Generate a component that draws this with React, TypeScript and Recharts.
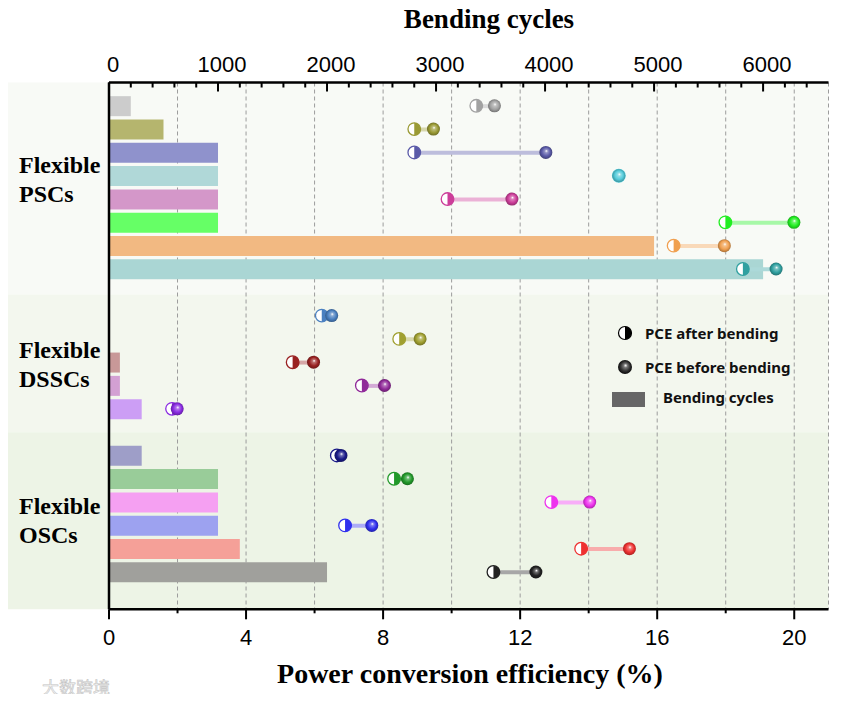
import React from "react";
import {
  ComposedChart,
  Bar,
  Scatter,
  XAxis,
  YAxis,
  CartesianGrid,
  ReferenceArea,
  Cell,
} from "recharts";

// slot of each device on the vertical axis (8 and 14 are gaps between groups)
const ROW_SLOT = [0, 1, 2, 3, 4, 5, 6, 7, 9, 10, 11, 12, 13, 15, 16, 17, 18, 19, 20];
const BENDING_CYCLES = [200, 500, 1000, 1000, 1000, 1000, 5000, 6000, null, null, 100, 100, 300, 300, 1000, 1000, 1000, 1200, 2000];
const PCE_AFTER = [10.72, 8.91, 8.91, 14.88, 9.88, 17.99, 16.48, 18.5, 6.21, 8.47, 5.36, 7.38, 1.84, 6.65, 8.32, 12.91, 6.89, 13.78, 11.22];
const PCE_BEFORE = [11.25, 9.47, 12.75, 14.88, 11.76, 19.99, 17.96, 19.47, 6.5, 9.08, 5.97, 8.04, 1.99, 6.77, 8.71, 14.03, 7.67, 15.19, 12.46];

const GROUP_NAMES = ["PSCs", "DSSCs", "OSCs"];
const GROUP_EDGES = [-1, 8.1, 14, 21.6];
const GROUP_LABEL_AT = [3.2, 11.1, 17.83];

const PCE_TICKS = [0, 2, 4, 6, 8, 10, 12, 14, 16, 18, 20];
const CYCLE_TICKS = [
  0, 200, 400, 600, 800, 1000, 1200, 1400, 1600, 1800, 2000, 2200, 2400, 2600, 2800, 3000, 3200,
  3400, 3600, 3800, 4000, 4200, 4400, 4600, 4800, 5000, 5200, 5400, 5600, 5800, 6000, 6200, 6400,
];
const ROW_GRID_TICKS = [1, 3.5, 6, 8.5, 11, 13.5, 16, 18.5, 21];

const MARKER_COLORS = [
  "#a2a2a2", "#9a9a35", "#5a5aa8", "#55ccdb", "#cc3d99", "#22ee22", "#f0a050", "#30a0a0",
  "#4a80c0", "#a0a030", "#992222", "#902a99", "#8a2be2",
  "#1a1a88", "#22992a", "#ee33ee", "#3030ee", "#ee3030", "#222222",
];
const BAR_COLORS = [
  "#cccccc", "#b5b56e", "#8f92cc", "#b0d8d8", "#d497c9", "#66ff66", "#f2b982", "#aad6d4",
  "#cccccc", "#cccccc", "#c89898", "#d3a0d3", "#cc9ef5",
  "#9e9ec8", "#99cc99", "#f5a0f2", "#9da2f0", "#f5a098", "#a0a09c",
];
const BAND_FILLS = ["#f8faf6", "#f3f7ee", "#edf4e6"];

const SERIF = "'Times New Roman', 'Liberation Serif', serif";
const SANS = "Arial, 'Liberation Sans', sans-serif";

const table = ROW_SLOT.map((slot, i) => ({
  i,
  slot,
  cycles: BENDING_CYCLES[i],
  after: PCE_AFTER[i],
  before: PCE_BEFORE[i],
  span: [PCE_AFTER[i], PCE_BEFORE[i]],
}));

const mix = (hex: string, t: number, to = 255) => {
  const n = parseInt(hex.slice(1), 16);
  const ch = [(n >> 16) & 255, (n >> 8) & 255, n & 255].map((c) => Math.round(c + (to - c) * t));
  return `rgb(${ch.join(",")})`;
};

const CycleTick = (props: any) => {
  const { x, y, payload } = props;
  const major = payload.value % 1000 === 0;
  return (
    <g>
      <line x1={x} x2={x} y1={y} y2={y + (major ? 9 : 5)} stroke="#000" strokeWidth={2} />
      {major && (
        <text x={x + 4} y={y - 18} textAnchor="middle" dominantBaseline="central" fontFamily={SANS} fontSize={22} fill="#000">
          {payload.value}
        </text>
      )}
    </g>
  );
};

const PceTick = (props: any) => {
  const { x, y, payload } = props;
  const major = payload.value % 4 === 0;
  return (
    <g>
      <line x1={x} x2={x} y1={y} y2={y + (major ? 10 : 4)} stroke="#000" strokeWidth={2} />
      {major && (
        <text x={x} y={y + 28} textAnchor="middle" dominantBaseline="central" fontFamily={SANS} fontSize={22} fill="#000">
          {payload.value}
        </text>
      )}
    </g>
  );
};

const GroupTick = (props: any) => {
  const { y, payload } = props;
  const name = GROUP_NAMES[GROUP_LABEL_AT.indexOf(payload.value)];
  return (
    <g fontFamily={SERIF} fontWeight="bold" fontSize={24} fill="#000">
      <text x={11} y={y - 7}>Flexible</text>
      <text x={11} y={y + 22}>{name}</text>
    </g>
  );
};

const AfterDot = (props: any) => {
  const { cx, cy, payload } = props;
  if (cx == null || cy == null) return null;
  const c = MARKER_COLORS[payload.i];
  const r = 6.3;
  return (
    <g>
      <circle cx={cx} cy={cy} r={r} fill="#fff" stroke={c} strokeWidth={1.3} />
      <path d={`M${cx},${cy - r} A${r},${r} 0 0 1 ${cx},${cy + r} Z`} fill={c} />
    </g>
  );
};

const BeforeDot = (props: any) => {
  const { cx, cy, payload } = props;
  if (cx == null || cy == null) return null;
  const c = MARKER_COLORS[payload.i];
  const id = `sphere-${payload.i}`;
  return (
    <g>
      <defs>
        <radialGradient id={id} cx="50%" cy="50%" r="55%" fx="55%" fy="38%">
          <stop offset="0%" stopColor="#ffffff" />
          <stop offset="22%" stopColor={mix(c, 0.35)} />
          <stop offset="60%" stopColor={c} />
          <stop offset="100%" stopColor={mix(c, 0.35, 0)} />
        </radialGradient>
      </defs>
      <circle cx={cx} cy={cy} r={6.5} fill={`url(#${id})`} />
    </g>
  );
};

const LegendBox = () => (
  <div style={{ position: "absolute", left: 600, top: 310, width: 200, height: 90, fontFamily: "'Noto Sans', sans-serif", fontWeight: 700, fontSize: 15, color: "#111" }}>
    <svg width={200} height={90} style={{ position: "absolute", left: 0, top: 0 }}>
      <defs>
        <radialGradient id="leg-sphere" cx="50%" cy="50%" r="55%" fx="55%" fy="38%">
          <stop offset="0%" stopColor="#ffffff" />
          <stop offset="25%" stopColor="#777" />
          <stop offset="60%" stopColor="#333" />
          <stop offset="100%" stopColor="#000" />
        </radialGradient>
      </defs>
      <circle cx={17} cy={15} r={6.5} fill="#fff" stroke="#000" strokeWidth={1.2} />
      <path d="M17,8.5 A6.5,6.5 0 0 1 17,21.5 Z" fill="#000" />
      <circle cx={17} cy={49} r={7} fill="url(#leg-sphere)" />
      <rect x={4} y={74} width={33} height={15} fill="#666" />
    </svg>
    <span style={{ position: "absolute", left: 37, top: 15, transform: "translateY(-50%)", whiteSpace: "nowrap" }}>PCE after bending</span>
    <span style={{ position: "absolute", left: 37, top: 49, transform: "translateY(-50%)", whiteSpace: "nowrap" }}>PCE before bending</span>
    <span style={{ position: "absolute", left: 55, top: 79, transform: "translateY(-50%)", whiteSpace: "nowrap" }}>Bending cycles</span>
  </div>
);

export default function App() {
  return (
    <div style={{ position: "relative", width: 827, height: 686 }}>
      <ComposedChart
        width={827}
        height={686}
        data={table}
        layout="vertical"
        margin={{ top: 0, right: 6.5, bottom: 0, left: 0 }}
      >
        <XAxis
          xAxisId="cyc"
          type="number"
          orientation="top"
          domain={[0, 6600]}
          ticks={CYCLE_TICKS}
          interval={0}
          height={74.5}
          tickSize={0}
          tickMargin={0}
          tickLine={false}
          tick={<CycleTick />}
          axisLine={{ stroke: "#000", strokeWidth: 2.5 }}
        />
        <XAxis
          xAxisId="pce"
          type="number"
          orientation="bottom"
          domain={[0, 21]}
          ticks={PCE_TICKS}
          interval={0}
          height={84.7}
          tickSize={0}
          tickMargin={0}
          tickLine={false}
          tick={<PceTick />}
          axisLine={{ stroke: "#000", strokeWidth: 2.5 }}
          label={{
            content: () => (
              <text x={462} y={675} textAnchor="middle" fontFamily={SERIF} fontWeight="bold" fontSize={28} fill="#000">
                Power conversion efficiency (%)
              </text>
            ),
          }}
        />
        <YAxis
          yAxisId="lab"
          type="number"
          dataKey="slot"
          domain={[-1, 21.6]}
          ticks={GROUP_LABEL_AT}
          interval={0}
          width={101}
          tickLine={false}
          tick={<GroupTick />}
          axisLine={{ stroke: "#000", strokeWidth: 2.5 }}
        />
        <YAxis
          yAxisId="g"
          orientation="right"
          type="number"
          dataKey="slot"
          domain={[-1, 21.6]}
          ticks={ROW_GRID_TICKS}
          interval={0}
          width={0}
          tick={false}
          tickLine={false}
          axisLine={{ stroke: "#000", strokeWidth: 2.5 }}
        />
        {GROUP_NAMES.map((g, k) => (
          <ReferenceArea
            key={g}
            xAxisId="pce"
            yAxisId="g"
            x1={-2.96}
            x2={21}
            y1={GROUP_EDGES[k]}
            y2={GROUP_EDGES[k + 1]}
            ifOverflow="visible"
            fill={BAND_FILLS[k]}
            fillOpacity={1}
            stroke="none"
            zIndex={-200}
          />
        ))}
        <CartesianGrid xAxisId="pce" yAxisId="g" horizontal={false} stroke="#9c9c9c" strokeDasharray="4 3" />
        <CartesianGrid xAxisId="pce" yAxisId="g" vertical={false} stroke="#7a7a7a" strokeDasharray="2 2" zIndex={350} />
        <Bar xAxisId="cyc" yAxisId="lab" dataKey="cycles" barSize={20} isAnimationActive={false}>
          {table.map((d) => (
            <Cell key={d.i} fill={BAR_COLORS[d.i]} />
          ))}
        </Bar>
        <Bar xAxisId="pce" yAxisId="g" dataKey="span" barSize={4} isAnimationActive={false}>
          {table.map((d) => (
            <Cell key={d.i} fill={mix(MARKER_COLORS[d.i], 0.6)} />
          ))}
        </Bar>
        <Scatter xAxisId="pce" yAxisId="lab" dataKey="after" shape={AfterDot} isAnimationActive={false} />
        <Scatter xAxisId="pce" yAxisId="lab" dataKey="before" shape={BeforeDot} isAnimationActive={false} />
      </ComposedChart>
      <div style={{ position: "absolute", left: 481, top: 11, transform: "translate(-50%, -50%)", fontFamily: SERIF, fontWeight: 700, fontSize: 27, lineHeight: 1, whiteSpace: "nowrap", color: "#000" }}>
        Bending cycles
      </div>
      <LegendBox />
      <div style={{ position: "absolute", left: 34, top: 666, fontFamily: "'Noto Sans CJK SC', sans-serif", fontSize: 17, color: "#f4f4f4", WebkitTextStroke: "0.6px #c4c4c4" }}>
        大数跨境
      </div>
    </div>
  );
}
